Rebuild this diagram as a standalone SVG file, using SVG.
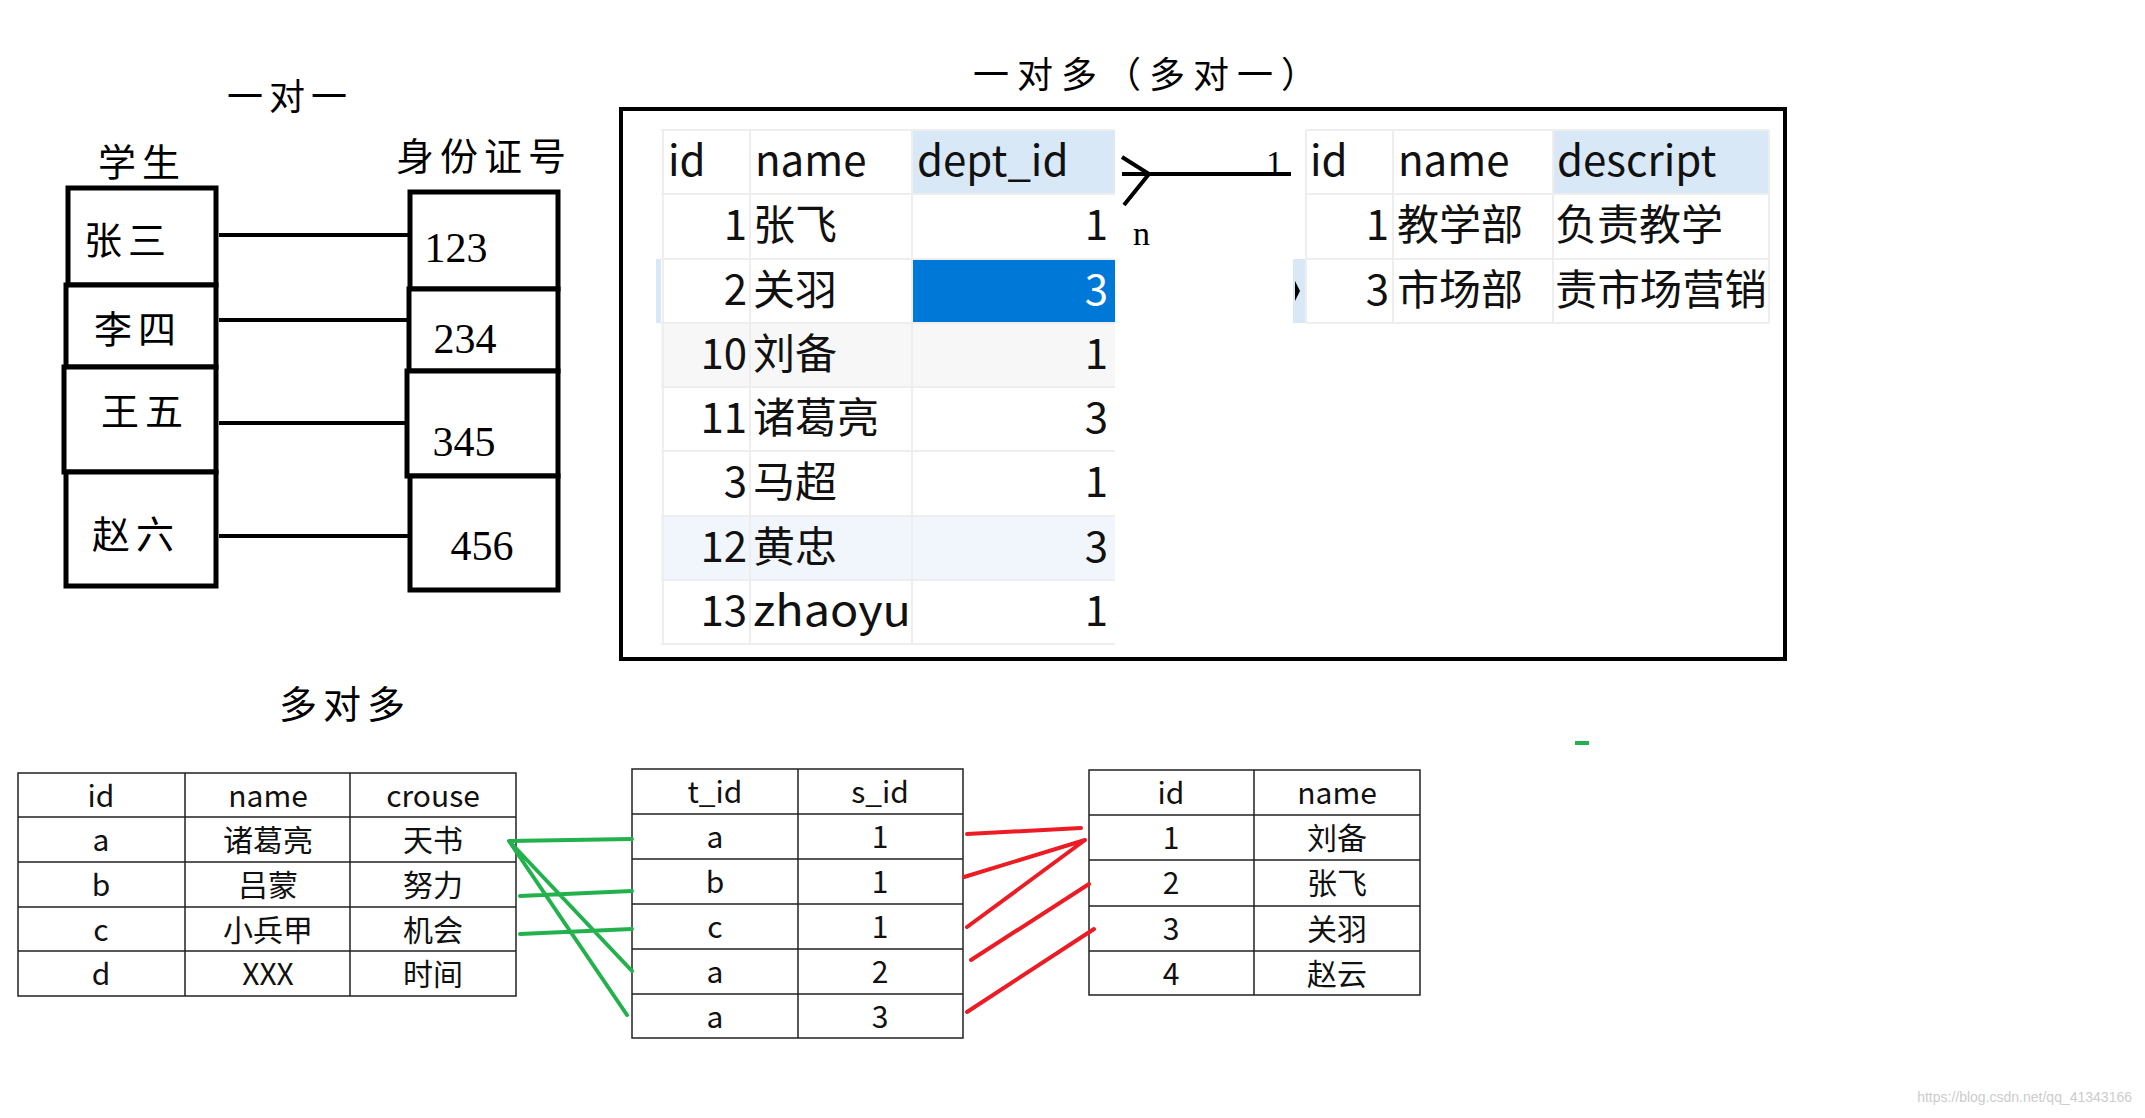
<svg xmlns="http://www.w3.org/2000/svg" width="2145" height="1118" viewBox="0 0 2145 1118">
<style>
.hw{font-family:"Liberation Serif","Noto Sans CJK SC",serif;fill:#000}
.bx{fill:#fff;stroke:#000;stroke-width:5}
.c1{stroke:#000;stroke-width:4;fill:none}
.t{font-family:"Noto Sans CJK SC","Noto Sans",sans-serif;font-size:42px;fill:#111}
.g{stroke:#eee;stroke-width:2;fill:none}
.s{font-family:"Noto Sans CJK SC","Noto Sans",sans-serif;font-size:30px;fill:#111;text-anchor:middle}
.cell{fill:#fff;stroke:#222;stroke-width:1.5}
.gr{stroke:#22b14c;stroke-width:4;fill:none;stroke-linecap:round}
.rd{stroke:#ed1c24;stroke-width:4;fill:none;stroke-linecap:round}
</style>
<rect width="2145" height="1118" fill="#fff"/>

<g id="one-to-one">
<text class="hw" x="290" y="110" font-size="36" text-anchor="middle" letter-spacing="6">一对一</text>
<text class="hw" x="142" y="176" font-size="38" text-anchor="middle" letter-spacing="6">学生</text>
<text class="hw" x="484" y="170" font-size="38" text-anchor="middle" letter-spacing="6">身份证号</text>
<g id="students">
<rect class="bx" x="68" y="188" width="148" height="97"/>
<rect class="bx" x="66" y="285" width="150" height="82"/>
<rect class="bx" x="64" y="367" width="152" height="105"/>
<rect class="bx" x="66" y="472" width="150" height="114"/>
<text class="hw" x="128" y="254" font-size="38" text-anchor="middle" letter-spacing="6">张三</text>
<text class="hw" x="138" y="343" font-size="38" text-anchor="middle" letter-spacing="6">李四</text>
<text class="hw" x="145" y="425" font-size="38" text-anchor="middle" letter-spacing="6">王五</text>
<text class="hw" x="136" y="548" font-size="38" text-anchor="middle" letter-spacing="6">赵六</text>
</g>
<g id="ids">
<rect class="bx" x="410" y="192" width="148" height="97"/>
<rect class="bx" x="409" y="289" width="149" height="82"/>
<rect class="bx" x="407" y="371" width="151" height="105"/>
<rect class="bx" x="410" y="476" width="148" height="114"/>
<text class="hw" x="456" y="262" font-size="42" text-anchor="middle">123</text>
<text class="hw" x="465" y="353" font-size="42" text-anchor="middle">234</text>
<text class="hw" x="464" y="456" font-size="42" text-anchor="middle">345</text>
<text class="hw" x="482" y="560" font-size="42" text-anchor="middle">456</text>
</g>
<g id="oo-links">
<path class="c1" d="M219 235H408M219 320H408M219 423H408M219 536H408"/>
</g>
</g>

<g id="one-to-many">
<text class="hw" x="1149" y="88" font-size="36" text-anchor="middle" letter-spacing="8">一对多（多对一）</text>
<rect x="621" y="109" width="1164" height="550" fill="#fff" stroke="#000" stroke-width="4"/>
<g id="emp">
<rect x="912" y="130" width="203" height="64" fill="#d9e8f7"/>
<rect x="661" y="323" width="454" height="64" fill="#f7f7f7"/>
<rect x="661" y="516" width="454" height="64" fill="#f0f6fc"/>
<rect x="656" y="259" width="5" height="64" fill="#d9e8f7"/>
<rect x="912" y="259" width="203" height="64" fill="#0078d7"/>
<path class="g" d="M661 130H1115M661 194H1115M661 259H1115M661 323H1115M661 387H1115M661 451H1115M661 516H1115M661 580H1115M661 644H1115M663 130V644M750 130V644M912 130V644"/>
<text class="t" x="668" y="176">id</text>
<text class="t" x="755" y="176">name</text>
<text class="t" x="917" y="176">dept_id</text>
<g class="t" text-anchor="end">
<text x="747" y="240">1</text><text x="747" y="305">2</text><text x="747" y="369">10</text><text x="747" y="433">11</text><text x="747" y="497">3</text><text x="747" y="562">12</text><text x="747" y="626">13</text>
<text x="1108" y="240">1</text><text x="1108" y="305" fill="#fff">3</text><text x="1108" y="369">1</text><text x="1108" y="433">3</text><text x="1108" y="497">1</text><text x="1108" y="562">3</text><text x="1108" y="626">1</text>
</g>
<g class="t">
<text x="753" y="240">张飞</text><text x="753" y="305">关羽</text><text x="753" y="369">刘备</text><text x="753" y="433">诸葛亮</text><text x="753" y="497">马超</text><text x="753" y="562">黄忠</text><text x="753" y="626" textLength="158" lengthAdjust="spacingAndGlyphs">zhaoyu</text>
</g>
</g>
<g id="dept">
<rect x="1553" y="130" width="216" height="64" fill="#d9e8f7"/>
<rect x="1293" y="259" width="13" height="64" fill="#d9e8f7"/>
<path d="M1295 281l5 10-5 10z" fill="#000"/>
<path class="g" d="M1306 130H1769M1306 194H1769M1306 259H1769M1306 323H1769M1306 130V323M1393 130V323M1553 130V323M1769 130V323"/>
<text class="t" x="1310" y="176">id</text>
<text class="t" x="1398" y="176">name</text>
<text class="t" x="1557" y="176">descript</text>
<text class="t" x="1389" y="240" text-anchor="end">1</text>
<text class="t" x="1389" y="305" text-anchor="end">3</text>
<text class="t" x="1397" y="240">教学部</text>
<text class="t" x="1397" y="305">市场部</text>
<text class="t" x="1555" y="240">负责教学</text>
<text class="t" x="1555" y="305" textLength="212" lengthAdjust="spacingAndGlyphs">责市场营销</text>
</g>
<g id="om-link">
<path class="c1" d="M1122 174H1291M1122 157L1149 174L1124 205"/>
<text class="hw" x="1133" y="245" font-size="34">n</text>
<text class="hw" x="1266" y="174" font-size="34">1</text>
</g>
</g>

<g id="many-to-many">
<text class="hw" x="345" y="718" font-size="38" text-anchor="middle" letter-spacing="6">多对多</text>
<g id="course">
<path class="cell" d="M18 773H516V996H18ZM18 817H516M18 862H516M18 907H516M18 951H516M185 773V996M350 773V996"/>
<text class="s" x="101" y="807">id</text><text class="s" x="268" y="807">name</text><text class="s" x="433" y="807">crouse</text>
<text class="s" x="101" y="851">a</text><text class="s" x="268" y="851">诸葛亮</text><text class="s" x="433" y="851">天书</text>
<text class="s" x="101" y="896">b</text><text class="s" x="268" y="896">吕蒙</text><text class="s" x="433" y="896">努力</text>
<text class="s" x="101" y="941">c</text><text class="s" x="268" y="941">小兵甲</text><text class="s" x="433" y="941">机会</text>
<text class="s" x="101" y="985">d</text><text class="s" x="268" y="985">XXX</text><text class="s" x="433" y="985">时间</text>
</g>
<g id="link">
<path class="cell" d="M632 769H963V1038H632ZM632 814H963M632 859H963M632 904H963M632 949H963M632 994H963M798 769V1038"/>
<text class="s" x="715" y="803">t_id</text><text class="s" x="880" y="803">s_id</text>
<text class="s" x="715" y="848">a</text><text class="s" x="880" y="848">1</text>
<text class="s" x="715" y="893">b</text><text class="s" x="880" y="893">1</text>
<text class="s" x="715" y="938">c</text><text class="s" x="880" y="938">1</text>
<text class="s" x="715" y="983">a</text><text class="s" x="880" y="983">2</text>
<text class="s" x="715" y="1028">a</text><text class="s" x="880" y="1028">3</text>
</g>
<g id="people">
<path class="cell" d="M1089 770H1420V995H1089ZM1089 815H1420M1089 860H1420M1089 906H1420M1089 951H1420M1254 770V995"/>
<text class="s" x="1171" y="804">id</text><text class="s" x="1337" y="804">name</text>
<text class="s" x="1171" y="849">1</text><text class="s" x="1337" y="849">刘备</text>
<text class="s" x="1171" y="894">2</text><text class="s" x="1337" y="894">张飞</text>
<text class="s" x="1171" y="940">3</text><text class="s" x="1337" y="940">关羽</text>
<text class="s" x="1171" y="985">4</text><text class="s" x="1337" y="985">赵云</text>
</g>
<g id="mm-links">
<path class="gr" d="M509 841L632 839M520 896L632 891M520 934L632 929M509 841L632 971M509 841L627 1015"/>
<path class="rd" d="M967 834L1081 828M964 877L1085 840M967 927L1085 840M971 960L1089 884M967 1012L1094 929"/>
</g>
</g>
<path d="M1575 743h14" stroke="#22b14c" stroke-width="4"/>
<text x="2132" y="1102" font-family="Liberation Sans,sans-serif" font-size="14" fill="#ccc" text-anchor="end">https://blog.csdn.net/qq_41343166</text>
</svg>
